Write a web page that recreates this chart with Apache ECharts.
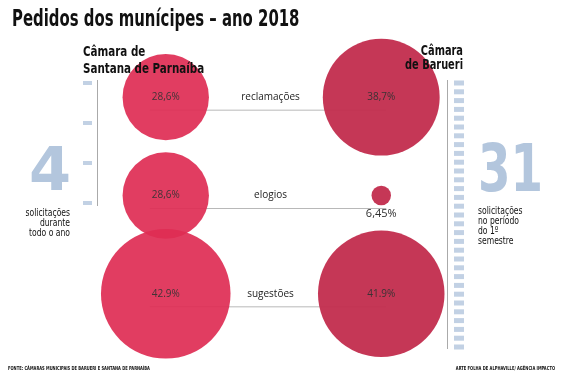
<!DOCTYPE html>
<html><head><meta charset="utf-8">
<script src="https://cdn.jsdelivr.net/npm/echarts@6/dist/echarts.min.js"></script>
<style>html,body{margin:0;padding:0;background:#fff}#c{width:567px;height:378px}</style>
</head><body><div id="c"></div>
<script>
const titleText = 'Pedidos dos munícipes – ano 2018';
const chambers = ['Câmara de\nSantana de Parnaíba', 'Câmara\nde Barueri'];
const categories = ['reclamações', 'elogios', 'sugestões'];
const santanaValues = [28.6, 28.6, 42.9];
const barueriValues = [38.7, 6.45, 41.9];
const santanaLabels = ['28,6%', '28,6%', '42.9%'];
const barueriLabels = ['38,7%', '6,45%', '41.9%'];
const santanaTotal = 4;
const barueriTotal = 31;
const santanaNote = 'solicitações\ndurante\ntodo o ano';
const barueriNote = 'solicitações\nno período\ndo 1º\nsemestre';
const sourceText = 'FONTE: CÂMARAS MUNICIPAIS DE BARUERI E SANTANA DE PARNAÍBA';
const creditText = 'ARTE FOLHA DE ALPHAVILLE/ AGÊNCIA IMPACTO';

const NARROW = "'DejaVu Sans Condensed', 'DejaVu Sans', sans-serif";
const LIGHT = "'Open Sans', 'Noto Sans', sans-serif";
const K = 3.02; // px diameter per percent
const blue = '#b3c6dd';

function bubbleData(col, values, labels) {
  return values.map((v, i) => ({
    value: [col, i, v],
    label: v * K < 30
      ? { show: true, formatter: labels[i], position: 'bottom', distance: 3, color: '#222', fontSize: 11, fontFamily: LIGHT }
      : { show: true, formatter: labels[i], position: 'inside', color: '#333', fontSize: 10, fontFamily: LIGHT }
  }));
}

function txt(x, y, text, sx, style) {
  return {
    type: 'text', x: x, y: y, scaleX: sx, silent: true, z: 100,
    style: Object.assign({ x: 0, y: 0, text: text, fill: '#111', fontFamily: NARROW, verticalAlign: 'top' }, style)
  };
}

const chart = echarts.init(document.getElementById('c'), null, { renderer: 'canvas' });
chart.setOption({
  backgroundColor: '#fff',
  animation: false,
  grid: [
    { left: 58, right: 78, top: 48, bottom: 35 },
    { left: 83, width: 9, top: 83, height: 120 },
    { left: 454, width: 10, top: 83, height: 264 }
  ],
  xAxis: [
    { type: 'category', gridIndex: 0, data: chambers, show: false },
    { type: 'value', gridIndex: 1, min: 0, max: 1, show: false },
    { type: 'value', gridIndex: 2, min: 0, max: 1, show: false }
  ],
  yAxis: [
    { type: 'category', gridIndex: 0, data: categories, inverse: true, show: false },
    { type: 'value', gridIndex: 1, min: 1, max: santanaTotal, inverse: true, show: false },
    { type: 'value', gridIndex: 2, min: 1, max: barueriTotal, inverse: true, show: false }
  ],
  series: [
    {
      type: 'custom', xAxisIndex: 0, yAxisIndex: 0, z: 1,
      data: categories.map((c, i) => [i]),
      renderItem: function (params, api) {
        const row = api.value(0);
        const p0 = api.coord([0, row]);
        const p1 = api.coord([1, row]);
        return {
          type: 'group',
          children: [
            { type: 'line', shape: { x1: p0[0] - 16, y1: p0[1] + 13, x2: p1[0] + 5, y2: p1[1] + 13 },
              style: { stroke: '#b8b8b8', lineWidth: 1 } },
            { type: 'text', style: { x: (p0[0] + p1[0]) / 2 - 3, y: p0[1], text: categories[row],
              align: 'center', verticalAlign: 'middle', fill: '#222', fontSize: 10, fontFamily: LIGHT } }
          ]
        };
      }
    },
    {
      type: 'scatter', xAxisIndex: 0, yAxisIndex: 0, z: 2,
      data: bubbleData(0, santanaValues, santanaLabels),
      symbolSize: v => v[2] * K,
      itemStyle: { color: '#de2d54', opacity: 0.92 }
    },
    {
      type: 'scatter', xAxisIndex: 0, yAxisIndex: 0, z: 2,
      data: bubbleData(1, barueriValues, barueriLabels),
      symbolSize: v => v[2] * K,
      itemStyle: { color: '#c22c4d', opacity: 0.95 }
    },
    {
      type: 'scatter', xAxisIndex: 1, yAxisIndex: 1, silent: true,
      data: Array.from({ length: santanaTotal }, (_, i) => [0.5, i + 1]),
      symbol: 'rect', symbolSize: [9, 4], itemStyle: { color: blue }
    },
    {
      type: 'scatter', xAxisIndex: 2, yAxisIndex: 2, silent: true,
      data: Array.from({ length: barueriTotal }, (_, i) => [0.5, i + 1]),
      symbol: 'rect', symbolSize: [10, 5], itemStyle: { color: blue }
    }
  ],
  graphic: [
    { type: 'line', silent: true, shape: { x1: 97.5, y1: 80, x2: 97.5, y2: 206 }, style: { stroke: '#aaa', lineWidth: 1 } },
    { type: 'line', silent: true, shape: { x1: 447.5, y1: 80, x2: 447.5, y2: 349 }, style: { stroke: '#aaa', lineWidth: 1 } },
    txt(12, 9, titleText, 0.72, { fontSize: 23, fontWeight: 'bold' }),
    txt(83, 44, chambers[0], 0.82, { fontSize: 14, fontWeight: 'bold', lineHeight: 17 }),
    txt(463, 44, chambers[1], 0.78, { fontSize: 14, fontWeight: 'bold', lineHeight: 14.5, align: 'right' }),
    txt(71, 144, String(santanaTotal), 1.12, { fontSize: 60, fontWeight: 'bold', fill: blue, align: 'right' }),
    txt(478, 142, String(barueriTotal), 0.8, { fontSize: 65, fontWeight: 'bold', fill: blue }),
    txt(70, 208, santanaNote, 0.85, { fontSize: 10, lineHeight: 10, align: 'right' }),
    txt(478, 206, barueriNote, 0.85, { fontSize: 10, lineHeight: 10 }),
    txt(8, 366, sourceText, 0.74, { fontSize: 5.5, fontWeight: 'bold' }),
    txt(555, 366, creditText, 0.74, { fontSize: 5.5, fontWeight: 'bold', align: 'right' })
  ]
});
</script></body></html>
